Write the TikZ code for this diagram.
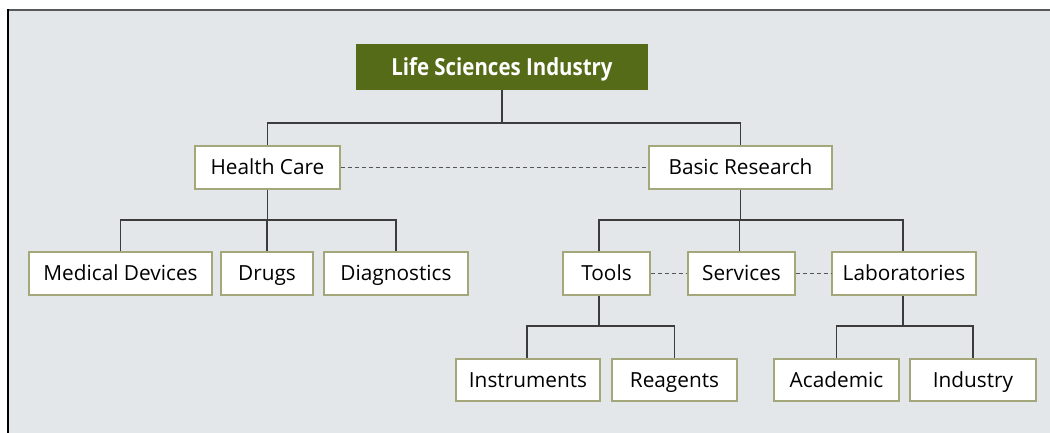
\documentclass[tikz,border=0pt]{standalone}
\usepackage{fontspec}
\setmainfont{Open Sans}
\newfontfamily\titlefont[FakeStretch=0.87]{Open Sans}
\definecolor{bgc}{HTML}{E4E7EA}
\definecolor{olive}{HTML}{556B17}
\definecolor{boxline}{HTML}{A3A77A}
\definecolor{connc}{HTML}{3C3C3C}
\definecolor{dashc}{HTML}{555555}
\begin{document}
\begin{tikzpicture}[x=1pt,y=-1pt,
  box/.style={draw=boxline,line width=1.2pt,fill=white,inner sep=0pt,minimum height=43pt,
    text height=14.9pt,text depth=0pt,
    font=\fontsize{20.8}{24}\selectfont,text=black},
  titlebox/.style={fill=olive,inner sep=0pt,minimum width=292pt,minimum height=46pt,
    text height=16.8pt,text depth=0pt,
    font=\titlefont\bfseries\fontsize{23.5}{27}\selectfont,text=white},
  conn/.style={draw=connc,line width=1.25pt},
  link/.style={draw=dashc,line width=1.7pt,dash pattern=on 4pt off 3pt}]
\useasboundingbox (0,0) rectangle (1050,433);
\fill[white] (0,0) rectangle (1050,433);
\fill[bgc] (8,10) rectangle (1050,433);
\draw[draw=black!65,line width=2pt] (7,10) -- (1050,10);
\draw[draw=black,line width=2pt] (8,9) -- (8,433);

\node[titlebox] (title) at (502,67) {Life Sciences Industry};
\node[box,minimum width=145pt] (hc) at (267.5,167.5) {Health Care};
\node[box,minimum width=183pt] (br) at (740.5,167.5) {Basic Research};
\node[box,minimum width=183pt] (md) at (120.5,273.5) {Medical Devices};
\node[box,minimum width=92pt] (drugs) at (267,273.5) {Drugs};
\node[box,minimum width=144pt] (diag) at (396,273.5) {Diagnostics};
\node[box,minimum width=87pt] (tools) at (606.5,273.5) {Tools};
\node[box,minimum width=107pt] (serv) at (741.5,273.5) {Services};
\node[box,minimum width=144pt] (labs) at (904,273.5) {Laboratories};
\node[box,minimum width=144pt,minimum height=42pt] (instr) at (528,380) {Instruments};
\node[box,minimum width=125pt,minimum height=42pt] (reag) at (674.5,380) {Reagents};
\node[box,minimum width=125pt,minimum height=42pt] (acad) at (836.5,380) {Academic};
\node[box,minimum width=126pt,minimum height=42pt] (ind) at (973,380) {Industry};

\coordinate (b1) at (0,123);
\coordinate (b2) at (0,220);
\coordinate (b3) at (0,326);

% level 1
\draw[conn] (title.south) -- (title.south |- b1);
\draw[conn] (hc.north) |- (br.north |- b1) -- (br.north);
% health care children
\draw[conn] (hc.south) -- (hc.south |- b2);
\draw[conn] (md.north) |- (diag.north |- b2) -- (diag.north);
\draw[conn] (drugs.north) -- (drugs.north |- b2);
% basic research children
\draw[conn] (br.south) -- (br.south |- b2);
\draw[conn] ([xshift=-7.5pt]tools.north) |- ([xshift=-1pt]labs.north |- b2) -- ([xshift=-1pt]labs.north);
\draw[conn] ([xshift=-2pt]serv.north) -- ([xshift=-2pt]serv.north |- b2);
% tools children
\draw[conn] ([xshift=-7.5pt]tools.south) -- ([xshift=-7.5pt]tools.south |- b3);
\draw[conn] ([xshift=-1pt]instr.north) |- (reag.north |- b3) -- (reag.north);
% laboratories children
\draw[conn] ([xshift=-1pt]labs.south) -- ([xshift=-1pt]labs.south |- b3);
\draw[conn] (acad.north) |- (ind.north |- b3) -- (ind.north);

% dashed links
\draw[link] (hc.east) -- (br.west);
\draw[link] (tools.east) -- (serv.west);
\draw[link] (serv.east) -- (labs.west);
\end{tikzpicture}
\end{document}
